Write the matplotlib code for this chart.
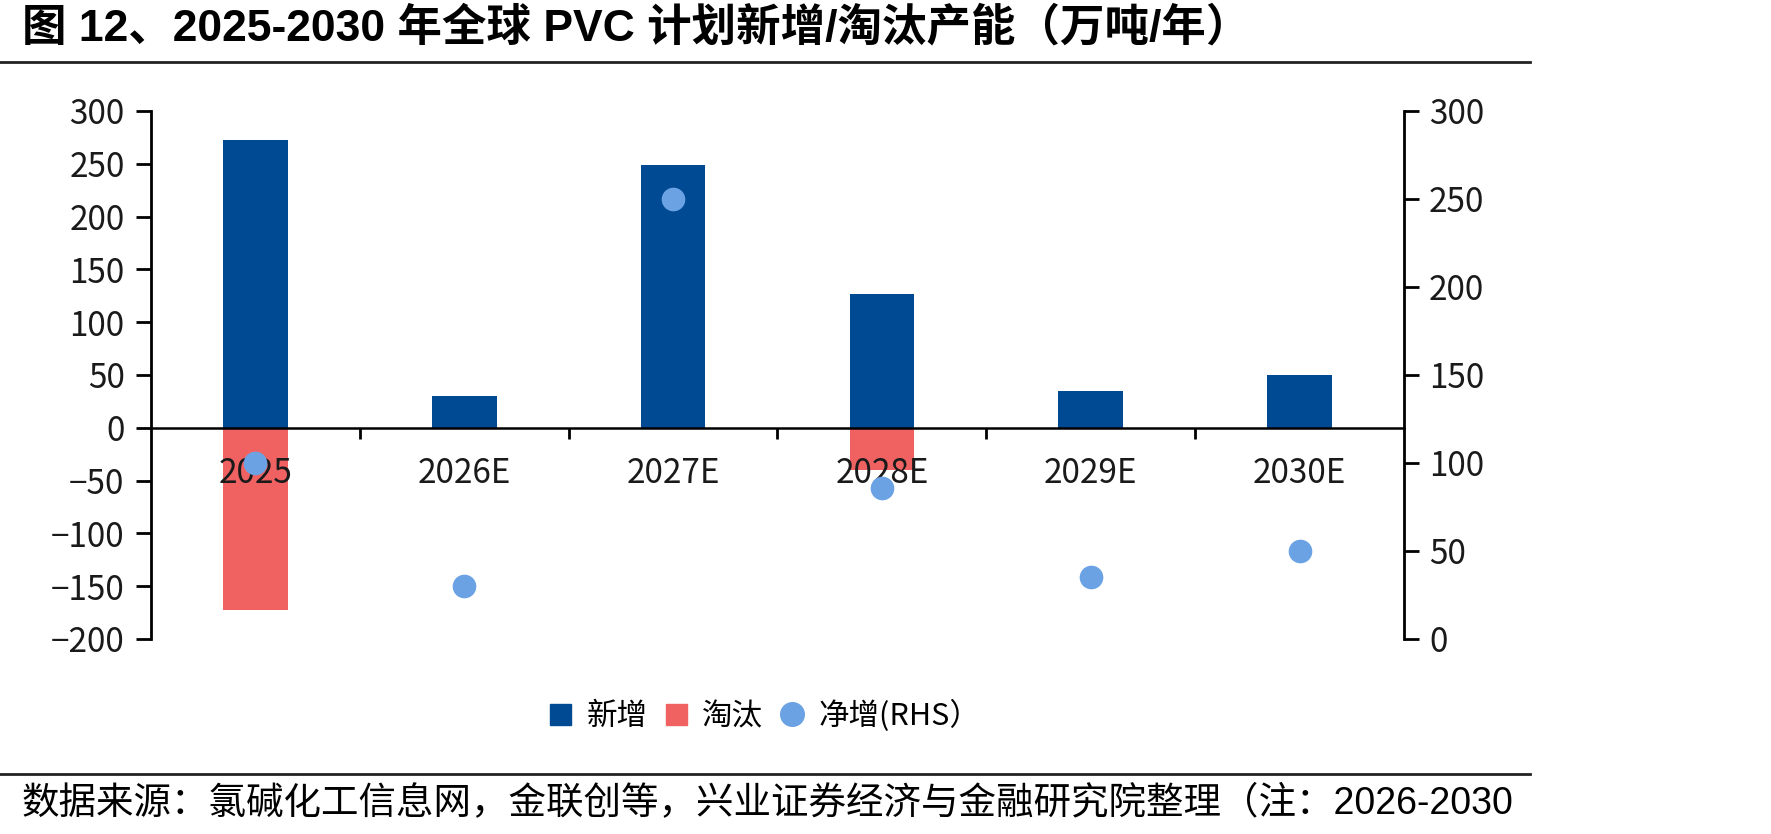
import matplotlib
matplotlib.use("Agg")
import matplotlib.pyplot as plt
from matplotlib.lines import Line2D
from matplotlib.patches import Patch
from matplotlib.ticker import FixedLocator, NullFormatter

# data (万吨/年)
years = ['2025', '2026E', '2027E', '2028E', '2029E', '2030E']
added = [273, 30, 249, 127, 35, 50]
retired = [-173, 0, 0, -40, 0, 0]
net = [100, 30, 250, 86, 35, 50]

c_add = '#004A94'
c_ret = '#F06262'
c_net = '#6AA2E4'

fam = ['Liberation Sans', 'Noto Sans CJK SC', 'DejaVu Sans']
tick_fam = ['Noto Sans CJK SC', 'DejaVu Sans']
plt.rcParams['font.family'] = fam
plt.rcParams['axes.unicode_minus'] = True

W, H = 1771, 834
fig = plt.figure(figsize=(W / 100, H / 100), dpi=100)

# plot box in pixels: left 151, right 1404, top 111, bottom 639
ax = fig.add_axes([151 / W, 1 - 639 / H, (1404 - 151) / W, (639 - 111) / H])
x = list(range(len(years)))
ax.bar(x, added, width=0.31, color=c_add, zorder=2)
ax.bar(x, retired, width=0.31, color=c_ret, zorder=2)
ax.set_xlim(-0.5, len(years) - 0.5)
ax.set_ylim(-200, 300)
ax.set_yticks(range(-200, 301, 50))

for s in ['top', 'right']:
    ax.spines[s].set_visible(False)
ax.spines['left'].set_linewidth(2)
ax.spines['bottom'].set_position(('data', 0))
ax.spines['bottom'].set_linewidth(1.8)

# category boundary ticks, labels at centres
ax.xaxis.set_major_locator(FixedLocator([i + 0.5 for i in range(len(years) - 1)]))
ax.xaxis.set_major_formatter(NullFormatter())
ax.xaxis.set_minor_locator(FixedLocator(x))
ax.set_xticklabels(years, minor=True)
ax.tick_params(axis='x', which='major', direction='out', length=8, width=2)
ax.tick_params(axis='x', which='minor', length=0, labelbottom=False)
ax.tick_params(axis='y', direction='out', length=11, width=2, pad=8)

ax2 = ax.twinx()
ax2.scatter(x, net, s=290, color=c_net, zorder=3, linewidths=0)
ax2.set_ylim(0, 300)
ax2.set_yticks(range(0, 301, 50))
for s in ['top', 'left', 'bottom']:
    ax2.spines[s].set_visible(False)
ax2.spines['right'].set_linewidth(2)
ax2.tick_params(axis='y', direction='out', length=11, width=2, pad=7)

# category labels drawn on the twin so they sit above the dots
zero_frac = (0 - ax.get_ylim()[0]) / (ax.get_ylim()[1] - ax.get_ylim()[0])
ax2.xaxis.set_visible(True)
ax2.spines['bottom'].set_position(('axes', zero_frac))
ax2.tick_params(axis='x', which='major', length=0)
ax2.tick_params(axis='x', which='minor', length=0, pad=20, labelbottom=True)

for a in (ax, ax2):
    for lab in a.get_yticklabels() + a.get_xticklabels(minor=True):
        lab.set_fontfamily(tick_fam)
        lab.set_fontweight('light')
        lab.set_fontsize(24)
        lab.set_color('#1a1a1a')

# title and footer
fig.text(22 / W, 1 - 28 / H, '图 12、2025-2030 年全球 PVC 计划新增/淘汰产能（万吨/年）',
         fontsize=32, fontweight='bold', ha='left', va='center')
fig.add_artist(Line2D([0, 1530 / W], [1 - 62 / H] * 2, color='#222222', lw=2))
fig.add_artist(Line2D([0, 1530 / W], [1 - 774 / H] * 2, color='#222222', lw=2))
fig.text(22 / W, 1 - 803 / H, '数据来源：氯碱化工信息网，金联创等，兴业证券经济与金融研究院整理（注：2026-2030',
         fontsize=27, ha='left', va='center')

handles = [Patch(color=c_add), Patch(color=c_ret),
           Line2D([], [], ls='none', marker='o', ms=17, mfc=c_net, mec=c_net)]
fig.legend(handles, ['新增', '淘汰', '净增(RHS）'], loc='center',
           bbox_to_anchor=(765 / W, 1 - 716 / H), ncol=3, frameon=False,
           prop={'family': tick_fam, 'size': 22, 'weight': 'light'},
           handlelength=0.7, handleheight=0.7, handletextpad=0.5, columnspacing=0.6)

fig.savefig('out.png', dpi=100, facecolor='white')
